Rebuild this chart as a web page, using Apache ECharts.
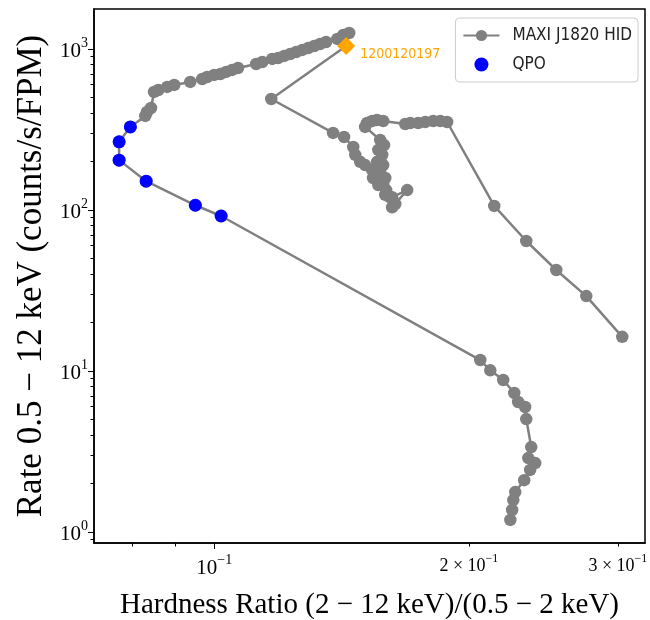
<!DOCTYPE html>
<html>
<head>
<meta charset="utf-8">
<script src="https://cdn.jsdelivr.net/npm/echarts@6/dist/echarts.min.js"></script>
<style>
html, body { margin: 0; padding: 0; background: #fff; }
#chart { width: 650px; height: 620px; }
</style>
</head>
<body>
<div id="chart"></div>
<script>
// HID track (hardness ratio, rate), in time order
const hardness = [
    0.3036, 0.2753, 0.2537, 0.2338, 0.2143,
    0.1885, 0.1850, 0.1815, 0.1776, 0.1742, 0.1705, 0.1682,
    0.1584, 0.1558, 0.1537, 0.1516, 0.1508,
    0.1571, 0.1588, 0.1563, 0.1580, 0.1558, 0.1584, 0.1571, 0.1593, 0.1584, 0.1597, 0.1614, 0.1637, 0.1623,
    0.1691, 0.1623, 0.1593,
    0.1563, 0.1541, 0.1537, 0.1508, 0.1488, 0.1468, 0.1460, 0.1424, 0.1382,
    0.1168, 0.1432,
    0.1444, 0.1421, 0.1398, 0.1356, 0.1334, 0.1313, 0.1292, 0.1271, 0.1250, 0.1230, 0.1210, 0.1190, 0.1171,
    0.1140, 0.1121, 0.1067, 0.1050, 0.1033, 0.1017, 0.1000, 0.0981, 0.0968, 0.0937,
    0.0897, 0.0880, 0.0859, 0.0849, 0.0842, 0.0833, 0.0829,
    0.0796, 0.0772, 0.0772, 0.0831, 0.0950, 0.1019,
    0.2063, 0.2120, 0.2196, 0.2263, 0.2287, 0.2331, 0.2338, 0.2370, 0.2351, 0.2396, 0.2363, 0.2325, 0.2269, 0.2257, 0.2250, 0.2239
];
const rate = [
    16.3, 29.2, 42.4, 64.2, 106,
    352, 357, 357, 352, 347, 347, 342,
    357, 362, 357, 347, 328,
    272, 253, 236, 220, 199, 190, 172, 158, 143, 133, 120, 109, 104,
    133, 120, 124,
    143, 158, 177, 190, 199, 220, 246, 284, 301,
    489, 1044,
    1257, 1222, 1154, 1105, 1074, 1044, 1014, 986, 958, 931, 905, 879, 867,
    830, 807, 762, 741, 720, 699, 690, 670, 651, 624,
    598, 581, 556, 541, 430, 406, 384,
    328, 265, 204, 151, 107, 91.8,
    11.7, 10.1, 8.79, 7.30, 6.42, 5.98, 5.03, 3.37, 2.88, 2.68, 2.43, 2.10, 1.77, 1.58, 1.37, 1.19
];

// observations with a QPO
const qpoHardness = [0.0796, 0.0772, 0.0772, 0.0831, 0.0950, 0.1019];
const qpoRate = [328, 265, 204, 151, 107, 91.8];

// marked observation
const markedObsId = "1200120197";
const markedHardness = [0.1432];
const markedRate = [1044];

// ticks
const xMajorTicks = [0.1];
const xMinorTicks = [0.08, 0.09, 0.2, 0.3];
const xLabelTicks = [0.1, 0.2, 0.3];
const yMajorTicks = [1, 10, 100, 1000];
const yMinorTicks = [0.9, 2, 3, 4, 5, 6, 7, 8, 9, 20, 30, 40, 50, 60, 70, 80, 90,
    200, 300, 400, 500, 600, 700, 800, 900];

const xMin = 0.0721, xMax = 0.323;
const yMin = 0.855, yMax = 1771;

const serif = "'Liberation Serif', 'DejaVu Serif', serif";
const narrow = "'Liberation Sans Narrow', 'DejaVu Sans Condensed', 'DejaVu Sans', sans-serif";

const pairs = (xs, ys) => xs.map((x, i) => [x, ys[i]]);
const expText = e => (e < 0 ? "\u2212" + (-e) : String(e));

function yLabel(v) {
    const e = Math.round(Math.log10(v));
    return "{b|10}{s|" + expText(e) + "}";
}
function xLabel(v) {
    const e = Math.floor(Math.log10(v) + 1e-9);
    const m = Math.round(v / Math.pow(10, e));
    if (m === 1) return "{b|10}{s|" + expText(e) + "}";
    return "{m|" + m + " \u00d7 10}{ms|" + expText(e) + "}";
}

const rich = {
    b: { fontFamily: serif, fontSize: 21, color: "#000", lineHeight: 26, verticalAlign: "bottom" },
    s: { fontFamily: serif, fontSize: 14, color: "#000", lineHeight: 14, verticalAlign: "top" },
    m: { fontFamily: serif, fontSize: 18, color: "#000", lineHeight: 22, verticalAlign: "bottom" },
    ms: { fontFamily: serif, fontSize: 12, color: "#000", lineHeight: 12, verticalAlign: "top" }
};

const chart = echarts.init(document.getElementById("chart"));
const option = {
    animation: false,
    backgroundColor: "#fff",
    grid: {
        left: 94, right: 5, top: 9, bottom: 77,
        outerBoundsMode: "none",
        containLabel: false,
        show: true, borderColor: "#000", borderWidth: 1.5, backgroundColor: "transparent"
    },
    legend: {
        orient: "vertical",
        right: 12,
        top: 18,
        data: ["MAXI J1820 HID", { name: "QPO", icon: "circle" }],
        itemWidth: 36,
        itemHeight: 14,
        itemGap: 12,
        padding: [9, 6, 9, 7],
        backgroundColor: "rgba(255,255,255,0.8)",
        borderColor: "#cccccc",
        borderWidth: 1,
        borderRadius: 4,
        textStyle: { fontFamily: narrow, fontSize: 17, color: "#222", padding: [0, 0, 0, 8] }
    },
    xAxis: [
        {
            type: "log", min: xMin, max: xMax,
            name: "Hardness Ratio (2 \u2212 12 keV)/(0.5 \u2212 2 keV)",
            nameLocation: "middle", nameGap: 48,
            nameTextStyle: { fontFamily: serif, fontSize: 29, color: "#000" },
            axisLine: { lineStyle: { color: "#000", width: 1.5 } },
            axisTick: { customValues: xMajorTicks, length: 6, lineStyle: { color: "#000" } },
            axisLabel: { customValues: xLabelTicks, formatter: xLabel, rich: rich, margin: 10 },
            splitLine: { show: false }
        },
        {
            type: "log", min: xMin, max: xMax, position: "bottom",
            axisLine: { show: false },
            axisTick: { customValues: xMinorTicks, length: 3.5, lineStyle: { color: "#000" } },
            axisLabel: { show: false },
            splitLine: { show: false }
        }
    ],
    yAxis: [
        {
            type: "log", min: yMin, max: yMax,
            name: "Rate 0.5 \u2212 12 keV (counts/s/FPM)",
            nameLocation: "middle", nameGap: 36,
            nameTextStyle: { fontFamily: serif, fontSize: 35, color: "#000" },
            axisLine: { lineStyle: { color: "#000", width: 1.5 } },
            axisTick: { customValues: yMajorTicks, length: 6, lineStyle: { color: "#000" } },
            axisLabel: { customValues: yMajorTicks, formatter: yLabel, rich: rich, margin: 6 },
            splitLine: { show: false }
        },
        {
            type: "log", min: yMin, max: yMax, position: "left",
            axisLine: { show: false },
            axisTick: { customValues: yMinorTicks, length: 3.5, lineStyle: { color: "#000" } },
            axisLabel: { show: false },
            splitLine: { show: false }
        }
    ],
    series: [
        {
            name: "MAXI J1820 HID",
            type: "line",
            data: pairs(hardness, rate),
            symbol: "circle",
            symbolSize: 12.5,
            showAllSymbol: true,
            itemStyle: { color: "#808080", opacity: 1 },
            lineStyle: { color: "#808080", width: 2.5 },
            z: 2
        },
        {
            name: "QPO",
            type: "scatter",
            data: pairs(qpoHardness, qpoRate),
            symbol: "circle",
            symbolSize: 13,
            itemStyle: { color: "#0000ff", opacity: 1 },
            z: 3
        },
        {
            name: markedObsId,
            type: "scatter",
            data: pairs(markedHardness, markedRate),
            symbol: "diamond",
            symbolSize: 18,
            itemStyle: { color: "#ffa500", opacity: 1 },
            label: {
                show: true,
                position: "right",
                distance: 5,
                offset: [0, 8],
                formatter: markedObsId,
                fontFamily: narrow,
                fontSize: 14,
                color: "#ffa500"
            },
            z: 4
        }
    ]
};
chart.setOption(option);
</script>
</body>
</html>
